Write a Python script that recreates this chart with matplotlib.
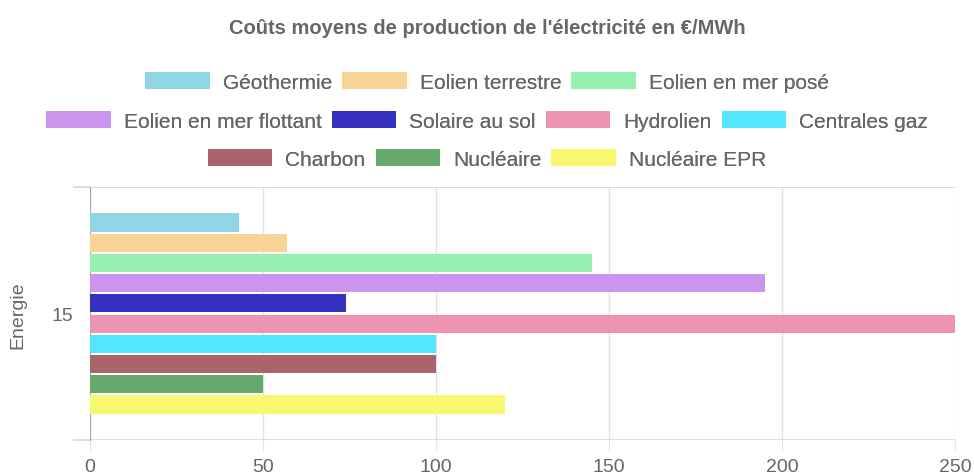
import numpy as np
import matplotlib.pyplot as plt
from matplotlib.patches import Patch

plt.rcParams['font.family'] = ['Liberation Sans', 'DejaVu Sans']

# data
category = ["15"]
sources = ["Géothermie", "Eolien terrestre", "Eolien en mer posé",
           "Eolien en mer flottant", "Solaire au sol", "Hydrolien", "Centrales gaz",
           "Charbon", "Nucléaire", "Nucléaire EPR"]
costs = [43, 57, 145, 195, 74, 250, 100, 100, 50, 120]
colors = ["#8fd5e6", "#f8d496", "#96f0b0", "#cb95ee", "#3530c0",
          "#ee94b3", "#55e6ff", "#a9646c", "#66a96b", "#f8f870"]
legend_rows = [[0, 1, 2], [3, 4, 5, 6], [7, 8, 9]]

W, H = 974, 477
fig = plt.figure(figsize=(W / 100, H / 100), dpi=100)
ax = fig.add_axes([90 / W, 1 - 441 / H, (955 - 90) / W, (441 - 188) / H])

n = len(sources)
slot = 0.8 / n
for i, (name, val, c) in enumerate(zip(sources, costs, colors)):
    y = 0.4 - slot / 2 - i * slot
    ax.barh(y, val, height=slot * 0.9, color=c, zorder=3)

ax.set_xlim(0, 250)
ax.set_ylim(-0.5, 0.5)
ax.set_xticks([0, 50, 100, 150, 200, 250])
ax.set_yticks([0])
ax.set_yticklabels(category)
ax.set_yticks([-0.5, 0.5], minor=True)

ax.grid(axis='x', color='#e3e3e3', lw=1, zorder=0)
ax.grid(axis='y', which='minor', color='#d6d6d6', lw=1.2, zorder=0)
ax.tick_params(axis='x', length=8, color='#e3e3e3', labelcolor='#666666', labelsize=14, pad=5)
ax.tick_params(axis='y', which='major', length=0, labelcolor='#666666', labelsize=14, pad=12)
ax.tick_params(axis='y', which='minor', length=12, color='#d6d6d6', width=1.2)

for s in ['top', 'right', 'bottom']:
    ax.spines[s].set_visible(False)
ax.spines['left'].set_color('#aaaaaa')
ax.spines['left'].set_bounds(-0.5, 0.5)

fig.text(18 / W, 1 - 315 / H, "Energie", rotation=90, ha='center', va='center',
         color='#666666', fontsize=14)

fig.text(0.5, 1 - 28 / H, "Coûts moyens de production de l'électricité en €/MWh",
         ha='center', va='center', fontsize=14.5, fontweight='bold', color='#666666')

row_y = [83, 122, 160]
for row, yy in zip(legend_rows, row_y):
    handles = [Patch(facecolor=colors[i], edgecolor='none') for i in row]
    labels = [sources[i] for i in row]
    leg = fig.legend(handles, labels, loc='center', bbox_to_anchor=(0.5, 1 - yy / H),
                     ncol=len(row), frameon=False, fontsize=15,
                     handlelength=3.1, handleheight=0.85, handletextpad=0.62,
                     columnspacing=0.48, borderpad=0, borderaxespad=0)
    for t in leg.get_texts():
        t.set_color('#666666')
    fig.add_artist(leg)

fig.savefig("out.png", dpi=100)
